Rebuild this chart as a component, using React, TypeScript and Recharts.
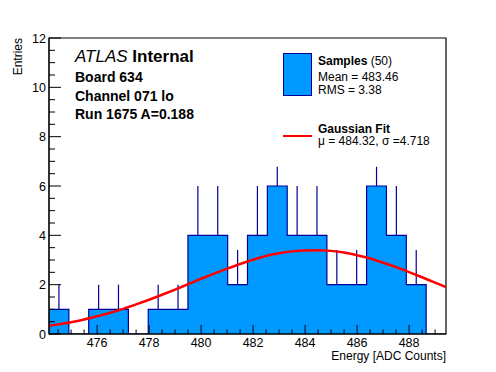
import React from 'react';
import {
  ComposedChart,
  Area,
  Line,
  Scatter,
  ErrorBar,
  XAxis,
  YAxis,
  ReferenceArea,
  Label,
} from 'recharts';

// Histogram range and binning (20 bins)
const X_MIN = 474.15;
const X_MAX = 489.42;
const BIN_COUNT = 20;

// Entries per bin, left to right
const COUNTS = [1, 0, 1, 1, 0, 1, 1, 4, 4, 2, 4, 6, 4, 4, 2, 2, 6, 4, 2, 0];
// Length of the error bar drawn above each bin top
const ERR_UP = [1, 0, 1, 1, 0, 1, 1, 2, 2, 1.41, 2, 0.78, 2, 2, 1.41, 1.41, 0.78, 2, 1.41, 0];

// Gaussian fit curve
const FIT_X = [
  474.15, 474.5, 475, 475.5, 476, 476.5, 477, 477.5, 478, 478.5, 479, 479.5, 480, 480.5, 481, 481.5,
  482, 482.5, 483, 483.5, 484, 484.5, 485, 485.5, 486, 486.5, 487, 487.5, 488, 488.5, 489, 489.42,
];
const FIT_Y = [
  0.33, 0.39, 0.48, 0.59, 0.72, 0.86, 1.02, 1.2, 1.39, 1.59, 1.8, 2.02, 2.24, 2.45, 2.65, 2.84,
  3.01, 3.16, 3.27, 3.35, 3.39, 3.4, 3.37, 3.3, 3.19, 3.06, 2.89, 2.71, 2.51, 2.3, 2.08, 1.9,
];

const X_TICKS = [
  474.5, 475, 475.5, 476, 476.5, 477, 477.5, 478, 478.5, 479, 479.5, 480, 480.5, 481, 481.5, 482,
  482.5, 483, 483.5, 484, 484.5, 485, 485.5, 486, 486.5, 487, 487.5, 488, 488.5, 489,
];
const Y_TICKS = [
  0, 0.5, 1, 1.5, 2, 2.5, 3, 3.5, 4, 4.5, 5, 5.5, 6, 6.5, 7, 7.5, 8, 8.5, 9, 9.5, 10, 10.5, 11, 11.5, 12,
];

const FONT = '"Liberation Sans", Arial, Helvetica, sans-serif';
const FILL = '#0099ff';
const EDGE = '#000099';

const binWidth = (X_MAX - X_MIN) / BIN_COUNT;

const histData = [
  ...COUNTS.map((c, i) => ({ x: X_MIN + i * binWidth, y: c })),
  { x: X_MAX, y: COUNTS[COUNTS.length - 1] },
];

const errData = COUNTS.map((c, i) => ({
  x: X_MIN + (i + 0.5) * binWidth,
  y: c,
  err: [0, ERR_UP[i]],
})).filter((d) => d.y > 0);

const fitData = FIT_X.map((x, i) => ({ x, y: FIT_Y[i] }));

const isMajor = (v: number) => Math.abs(v % 2) < 1e-6;

// ROOT style ticks: pointing into the frame
const YTick = (props: any) => {
  const { x, y, payload } = props;
  const major = isMajor(payload.value);
  return (
    <g>
      <line x1={x + 3} y1={y} x2={x + 3 + (major ? 12 : 6)} y2={y} stroke="#000" strokeWidth={1} />
      {major && (
        <text x={x} y={y} dy="0.36em" textAnchor="end" fontSize={12.5} fontFamily={FONT} fill="#000">
          {payload.value}
        </text>
      )}
    </g>
  );
};

const XTick = (props: any) => {
  const { x, y, payload } = props;
  const major = isMajor(payload.value);
  return (
    <g>
      <line x1={x} y1={y - 4} x2={x} y2={y - 4 - (major ? 9 : 4.5)} stroke="#000" strokeWidth={1} />
      {major && (
        <text x={x} y={y} dy="0.71em" textAnchor="middle" fontSize={12.5} fontFamily={FONT} fill="#000">
          {payload.value}
        </text>
      )}
    </g>
  );
};

const XTitle = (props: any) => {
  const vb = props.viewBox;
  return (
    <text x={vb.x + vb.width} y={vb.y + 25.5} textAnchor="end" fontSize={12} fontFamily={FONT} fill="#000">
      Energy [ADC Counts]
    </text>
  );
};

const YTitle = () => (
  <text
    x={22}
    y={38}
    textAnchor="end"
    transform="rotate(-90, 22, 38)"
    fontSize={12}
    fontFamily={FONT}
    fill="#000"
  >
    Entries
  </text>
);

const txt = (left: number, center: number, size: number, bold: boolean): React.CSSProperties => ({
  position: 'absolute',
  left,
  top: center - size * 0.6,
  lineHeight: `${size * 1.2}px`,
  fontSize: size,
  fontWeight: bold ? 'bold' : 'normal',
  whiteSpace: 'nowrap',
  color: '#000',
});

export default function App() {
  return (
    <div style={{ position: 'absolute', left: 0, top: 0, width: 496, height: 372, background: '#fff', fontFamily: FONT }}>
      <ComposedChart width={496} height={372} margin={{ top: 38, right: 50, bottom: 0, left: 9 }}>
        <Area
          data={histData}
          dataKey="y"
          type="stepAfter"
          fill={FILL}
          fillOpacity={1}
          stroke={EDGE}
          strokeWidth={1.2}
          baseValue={0}
          isAnimationActive={false}
        />
        <Scatter data={errData} dataKey="y" fill="none" isAnimationActive={false}>
          <ErrorBar dataKey="err" direction="y" width={0} stroke={EDGE} strokeWidth={1.2} isAnimationActive={false} />
        </Scatter>
        <Line
          data={fitData}
          dataKey="y"
          type="monotone"
          stroke="#ff0000"
          strokeWidth={2.5}
          dot={false}
          isAnimationActive={false}
        />
        <ReferenceArea x1={X_MIN} x2={X_MAX} y1={0} y2={12} fill="none" stroke="#000" strokeWidth={1.2} />
        <XAxis
          type="number"
          dataKey="x"
          domain={[X_MIN, X_MAX]}
          allowDataOverflow
          ticks={X_TICKS}
          interval={0}
          tick={(p: any) => <XTick {...p} />}
          tickLine={false}
          tickSize={0}
          tickMargin={4}
          height={38}
          axisLine={{ stroke: '#000' }}
        >
          <Label content={(p: any) => <XTitle {...p} />} />
        </XAxis>
        <YAxis
          type="number"
          dataKey="y"
          domain={[0, 12]}
          allowDataOverflow
          ticks={Y_TICKS}
          interval={0}
          tick={(p: any) => <YTick {...p} />}
          tickLine={false}
          tickSize={0}
          tickMargin={3}
          width={40}
          axisLine={{ stroke: '#000' }}
        >
          <Label content={() => <YTitle />} />
        </YAxis>
      </ComposedChart>

      <div style={txt(75, 57.5, 17, false)}>
        <i>ATLAS</i> <b>Internal</b>
      </div>
      <div style={txt(75, 77, 14, true)}>Board 634</div>
      <div style={txt(75, 96, 14, true)}>Channel 071 lo</div>
      <div style={txt(75, 114.5, 14, true)}>Run 1675 A=0.188</div>

      <div
        style={{
          position: 'absolute',
          left: 283,
          top: 53,
          width: 29,
          height: 43,
          boxSizing: 'border-box',
          background: FILL,
          border: `1px solid ${EDGE}`,
        }}
      />
      <div style={txt(318, 61.5, 12, false)}>
        <b>Samples</b> (50)
      </div>
      <div style={txt(318, 77, 12, false)}>Mean = 483.46</div>
      <div style={txt(318, 90.5, 12, false)}>RMS = 3.38</div>

      <div style={{ position: 'absolute', left: 283, top: 134.8, width: 29, height: 2.5, background: '#ff0000' }} />
      <div style={txt(318, 129, 12, true)}>Gaussian Fit</div>
      <div style={txt(318, 141.5, 12, false)}>μ = 484.32, σ =4.718</div>
    </div>
  );
}
